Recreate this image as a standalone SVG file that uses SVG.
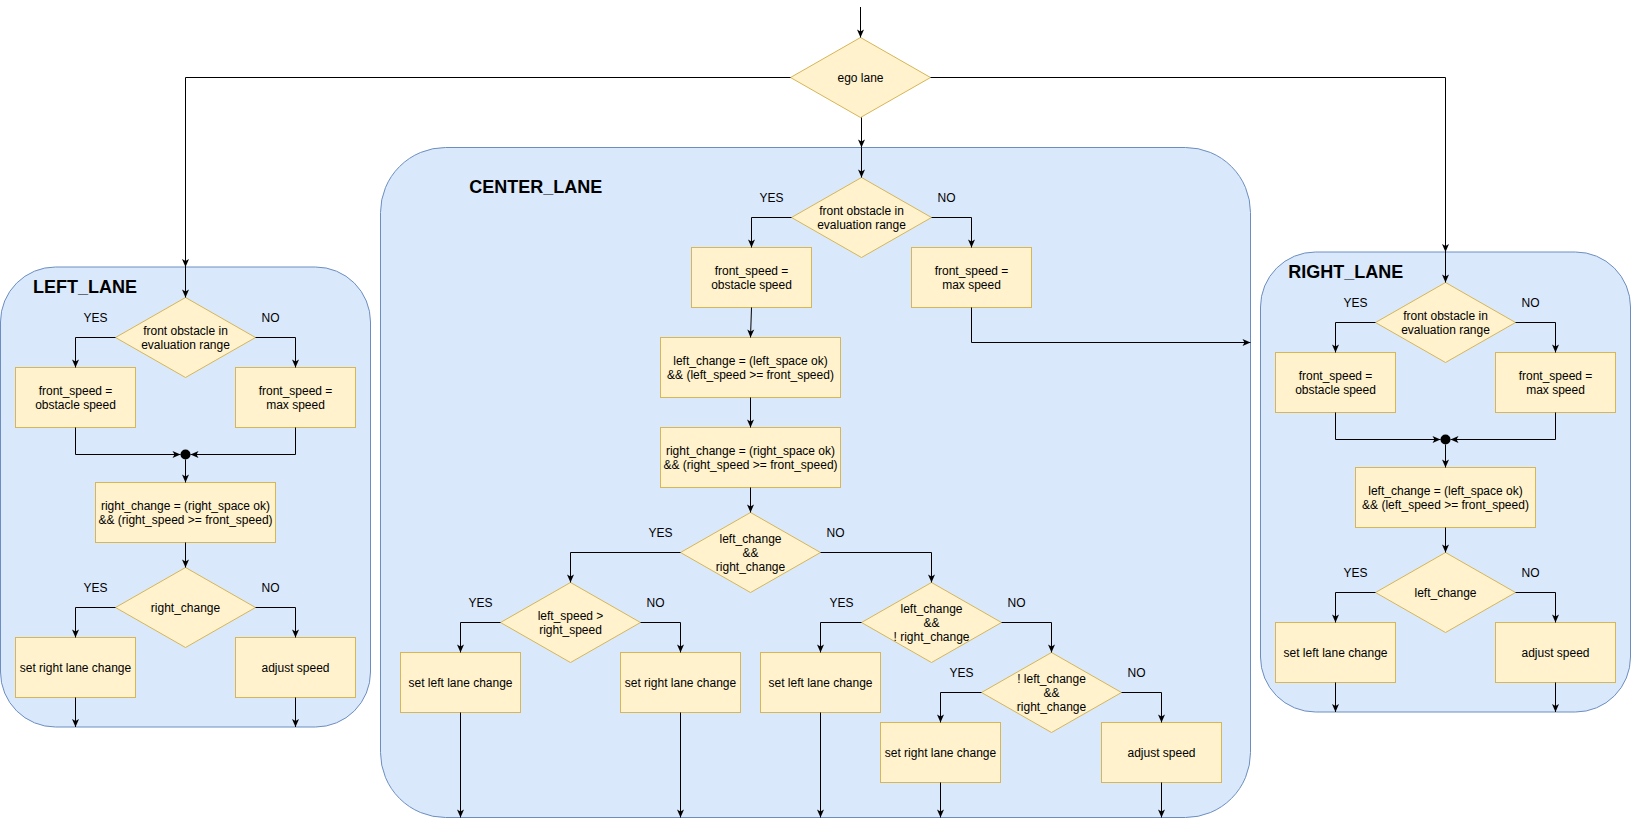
<svg xmlns="http://www.w3.org/2000/svg" width="1631" height="829" viewBox="0 0 1631 829">
<style>
.lane{fill:#dae8fc;stroke:#6c8ebf;stroke-width:1}
.node{fill:#fff2cc;stroke:#d6b656;stroke-width:1}
.e{fill:none;stroke:#000;stroke-width:1;marker-end:url(#arr)}
.t{font-family:"Liberation Sans",Arial,Helvetica,sans-serif;font-size:12px;fill:#000;text-anchor:middle}
.ttl{font-family:"Liberation Sans",Arial,Helvetica,sans-serif;font-size:18px;font-weight:bold;fill:#000}
</style>
<defs>
<marker id="arr" viewBox="0 0 10 8" refX="9" refY="4" markerWidth="10" markerHeight="8" orient="auto" markerUnits="userSpaceOnUse">
<path d="M1,0.5 L9,4 L1,7.5 L3,4 Z" fill="#000"/>
</marker>
</defs>
<rect width="1631" height="829" fill="#fff"/>

<!-- lanes -->
<g id="left_lane">
<rect class="lane" x="0.5" y="267" width="370" height="460" rx="55" ry="55"/>
<text class="ttl" x="33" y="293.3">LEFT_LANE</text>
</g>
<g id="center_lane">
<rect class="lane" x="380.5" y="147.5" width="870" height="670" rx="65" ry="65"/>
<text class="ttl" x="469.3" y="193.3">CENTER_LANE</text>
</g>
<g id="right_lane">
<rect class="lane" x="1260.5" y="252" width="370" height="460" rx="55" ry="55"/>
<text class="ttl" x="1288.3" y="278.3">RIGHT_LANE</text>
</g>

<!-- ego -->
<g id="ego_lane">
<polygon class="node" points="860.5,37.5 930.5,77.5 860.5,117.5 790.5,77.5"/>
<text class="t" x="860.5" y="82">ego lane</text>
</g>

<!-- LEFT lane nodes -->
<g id="l_front_obstacle">
<polygon class="node" points="185.5,297.5 255.5,337.5 185.5,377.5 115.5,337.5"/>
<text class="t" x="185.5" y="335">front obstacle in</text>
<text class="t" x="185.5" y="349">evaluation range</text>
</g>
<g id="l_obstacle_speed">
<rect class="node" x="15.5" y="367.5" width="120" height="60"/>
<text class="t" x="75.5" y="395">front_speed =</text>
<text class="t" x="75.5" y="409">obstacle speed</text>
</g>
<g id="l_max_speed">
<rect class="node" x="235.5" y="367.5" width="120" height="60"/>
<text class="t" x="295.5" y="395">front_speed =</text>
<text class="t" x="295.5" y="409">max speed</text>
</g>
<g id="l_join"><circle cx="185.5" cy="454.5" r="5" fill="#000"/></g>
<g id="l_right_change_calc">
<rect class="node" x="95.5" y="482.5" width="180" height="60"/>
<text class="t" x="185.5" y="510">right_change = (right_space ok)</text>
<text class="t" x="185.5" y="524">&amp;&amp; (right_speed &gt;= front_speed)</text>
</g>
<g id="l_right_change">
<polygon class="node" points="185.5,567.5 255.5,607.5 185.5,647.5 115.5,607.5"/>
<text class="t" x="185.5" y="612">right_change</text>
</g>
<g id="l_set_right">
<rect class="node" x="15.5" y="637.5" width="120" height="60"/>
<text class="t" x="75.5" y="672">set right lane change</text>
</g>
<g id="l_adjust">
<rect class="node" x="235.5" y="637.5" width="120" height="60"/>
<text class="t" x="295.5" y="672">adjust speed</text>
</g>

<!-- CENTER lane nodes -->
<g id="c_front_obstacle">
<polygon class="node" points="861.5,177.5 931.5,217.5 861.5,257.5 791.5,217.5"/>
<text class="t" x="861.5" y="215">front obstacle in</text>
<text class="t" x="861.5" y="229">evaluation range</text>
</g>
<g id="c_obstacle_speed">
<rect class="node" x="691.5" y="247.5" width="120" height="60"/>
<text class="t" x="751.5" y="275">front_speed =</text>
<text class="t" x="751.5" y="289">obstacle speed</text>
</g>
<g id="c_max_speed">
<rect class="node" x="911.5" y="247.5" width="120" height="60"/>
<text class="t" x="971.5" y="275">front_speed =</text>
<text class="t" x="971.5" y="289">max speed</text>
</g>
<g id="c_left_change_calc">
<rect class="node" x="660.5" y="337.5" width="180" height="60"/>
<text class="t" x="750.5" y="365">left_change = (left_space ok)</text>
<text class="t" x="750.5" y="379">&amp;&amp; (left_speed &gt;= front_speed)</text>
</g>
<g id="c_right_change_calc">
<rect class="node" x="660.5" y="427.5" width="180" height="60"/>
<text class="t" x="750.5" y="455">right_change = (right_space ok)</text>
<text class="t" x="750.5" y="469">&amp;&amp; (right_speed &gt;= front_speed)</text>
</g>
<g id="c_both">
<polygon class="node" points="750.5,512.5 820.5,552.5 750.5,592.5 680.5,552.5"/>
<text class="t" x="750.5" y="543">left_change</text>
<text class="t" x="750.5" y="557">&amp;&amp;</text>
<text class="t" x="750.5" y="571">right_change</text>
</g>
<g id="c_speed_cmp">
<polygon class="node" points="570.5,582.5 640.5,622.5 570.5,662.5 500.5,622.5"/>
<text class="t" x="570.5" y="620">left_speed &gt;</text>
<text class="t" x="570.5" y="634">right_speed</text>
</g>
<g id="c_left_only">
<polygon class="node" points="931.5,582.5 1001.5,622.5 931.5,662.5 861.5,622.5"/>
<text class="t" x="931.5" y="613">left_change</text>
<text class="t" x="931.5" y="627">&amp;&amp;</text>
<text class="t" x="931.5" y="641">! right_change</text>
</g>
<g id="c_right_only">
<polygon class="node" points="1051.5,652.5 1121.5,692.5 1051.5,732.5 981.5,692.5"/>
<text class="t" x="1051.5" y="683">! left_change</text>
<text class="t" x="1051.5" y="697">&amp;&amp;</text>
<text class="t" x="1051.5" y="711">right_change</text>
</g>
<g id="c_set_left_1">
<rect class="node" x="400.5" y="652.5" width="120" height="60"/>
<text class="t" x="460.5" y="687">set left lane change</text>
</g>
<g id="c_set_right_1">
<rect class="node" x="620.5" y="652.5" width="120" height="60"/>
<text class="t" x="680.5" y="687">set right lane change</text>
</g>
<g id="c_set_left_2">
<rect class="node" x="760.5" y="652.5" width="120" height="60"/>
<text class="t" x="820.5" y="687">set left lane change</text>
</g>
<g id="c_set_right_2">
<rect class="node" x="880.5" y="722.5" width="120" height="60"/>
<text class="t" x="940.5" y="757">set right lane change</text>
</g>
<g id="c_adjust">
<rect class="node" x="1101.5" y="722.5" width="120" height="60"/>
<text class="t" x="1161.5" y="757">adjust speed</text>
</g>

<!-- RIGHT lane nodes -->
<g id="r_front_obstacle">
<polygon class="node" points="1445.5,282.5 1515.5,322.5 1445.5,362.5 1375.5,322.5"/>
<text class="t" x="1445.5" y="320">front obstacle in</text>
<text class="t" x="1445.5" y="334">evaluation range</text>
</g>
<g id="r_obstacle_speed">
<rect class="node" x="1275.5" y="352.5" width="120" height="60"/>
<text class="t" x="1335.5" y="380">front_speed =</text>
<text class="t" x="1335.5" y="394">obstacle speed</text>
</g>
<g id="r_max_speed">
<rect class="node" x="1495.5" y="352.5" width="120" height="60"/>
<text class="t" x="1555.5" y="380">front_speed =</text>
<text class="t" x="1555.5" y="394">max speed</text>
</g>
<g id="r_join"><circle cx="1445.5" cy="439.5" r="5" fill="#000"/></g>
<g id="r_left_change_calc">
<rect class="node" x="1355.5" y="467.5" width="180" height="60"/>
<text class="t" x="1445.5" y="495">left_change = (left_space ok)</text>
<text class="t" x="1445.5" y="509">&amp;&amp; (left_speed &gt;= front_speed)</text>
</g>
<g id="r_left_change">
<polygon class="node" points="1445.5,552.5 1515.5,592.5 1445.5,632.5 1375.5,592.5"/>
<text class="t" x="1445.5" y="597">left_change</text>
</g>
<g id="r_set_left">
<rect class="node" x="1275.5" y="622.5" width="120" height="60"/>
<text class="t" x="1335.5" y="657">set left lane change</text>
</g>
<g id="r_adjust">
<rect class="node" x="1495.5" y="622.5" width="120" height="60"/>
<text class="t" x="1555.5" y="657">adjust speed</text>
</g>

<!-- labels -->
<g id="labels" class="t">
<text class="t" x="95.5" y="322">YES</text><text class="t" x="270.5" y="322">NO</text>
<text class="t" x="95.5" y="592">YES</text><text class="t" x="270.5" y="592">NO</text>
<text class="t" x="771.5" y="202">YES</text><text class="t" x="946.5" y="202">NO</text>
<text class="t" x="660.5" y="537">YES</text><text class="t" x="835.5" y="537">NO</text>
<text class="t" x="480.5" y="607">YES</text><text class="t" x="655.5" y="607">NO</text>
<text class="t" x="841.5" y="607">YES</text><text class="t" x="1016.5" y="607">NO</text>
<text class="t" x="961.5" y="677">YES</text><text class="t" x="1136.5" y="677">NO</text>
<text class="t" x="1355.5" y="307">YES</text><text class="t" x="1530.5" y="307">NO</text>
<text class="t" x="1355.5" y="577">YES</text><text class="t" x="1530.5" y="577">NO</text>
</g>

<!-- connectors -->
<g id="connectors">
<path class="e" d="M860.5,7 L860.5,37.5"/>
<path class="e" d="M790.5,77.5 L185.5,77.5 L185.5,267"/>
<path class="e" d="M185.5,267 L185.5,297.5"/>
<path class="e" d="M930.5,77.5 L1445.5,77.5 L1445.5,252"/>
<path class="e" d="M1445.5,252 L1445.5,282.5"/>
<path class="e" d="M861.5,117.5 L861.5,147.5"/>
<path class="e" d="M861.5,147.5 L861.5,177.5"/>

<!-- left lane -->
<path class="e" d="M115.5,337.5 L75.5,337.5 L75.5,367.5"/>
<path class="e" d="M255.5,337.5 L295.5,337.5 L295.5,367.5"/>
<path class="e" d="M75.5,427.5 L75.5,454.5 L180.5,454.5"/>
<path class="e" d="M295.5,427.5 L295.5,454.5 L190.5,454.5"/>
<path class="e" d="M185.5,459.5 L185.5,482.5"/>
<path class="e" d="M185.5,542.5 L185.5,567.5"/>
<path class="e" d="M115.5,607.5 L75.5,607.5 L75.5,637.5"/>
<path class="e" d="M255.5,607.5 L295.5,607.5 L295.5,637.5"/>
<path class="e" d="M75.5,697.5 L75.5,727"/>
<path class="e" d="M295.5,697.5 L295.5,727"/>

<!-- center lane -->
<path class="e" d="M791.5,217.5 L751.5,217.5 L751.5,247.5"/>
<path class="e" d="M931.5,217.5 L971.5,217.5 L971.5,247.5"/>
<path class="e" d="M971.5,307.5 L971.5,342.5 L1250.5,342.5"/>
<path class="e" d="M751.5,307.5 L750.5,337.5"/>
<path class="e" d="M750.5,397.5 L750.5,427.5"/>
<path class="e" d="M750.5,487.5 L750.5,512.5"/>
<path class="e" d="M680.5,552.5 L570.5,552.5 L570.5,582.5"/>
<path class="e" d="M820.5,552.5 L931.5,552.5 L931.5,582.5"/>
<path class="e" d="M500.5,622.5 L460.5,622.5 L460.5,652.5"/>
<path class="e" d="M640.5,622.5 L680.5,622.5 L680.5,652.5"/>
<path class="e" d="M861.5,622.5 L820.5,622.5 L820.5,652.5"/>
<path class="e" d="M1001.5,622.5 L1051.5,622.5 L1051.5,652.5"/>
<path class="e" d="M981.5,692.5 L940.5,692.5 L940.5,722.5"/>
<path class="e" d="M1121.5,692.5 L1161.5,692.5 L1161.5,722.5"/>
<path class="e" d="M460.5,712.5 L460.5,817.5"/>
<path class="e" d="M680.5,712.5 L680.5,817.5"/>
<path class="e" d="M820.5,712.5 L820.5,817.5"/>
<path class="e" d="M940.5,782.5 L940.5,817.5"/>
<path class="e" d="M1161.5,782.5 L1161.5,817.5"/>

<!-- right lane -->
<path class="e" d="M1375.5,322.5 L1335.5,322.5 L1335.5,352.5"/>
<path class="e" d="M1515.5,322.5 L1555.5,322.5 L1555.5,352.5"/>
<path class="e" d="M1335.5,412.5 L1335.5,439.5 L1440.5,439.5"/>
<path class="e" d="M1555.5,412.5 L1555.5,439.5 L1450.5,439.5"/>
<path class="e" d="M1445.5,444.5 L1445.5,467.5"/>
<path class="e" d="M1445.5,527.5 L1445.5,552.5"/>
<path class="e" d="M1375.5,592.5 L1335.5,592.5 L1335.5,622.5"/>
<path class="e" d="M1515.5,592.5 L1555.5,592.5 L1555.5,622.5"/>
<path class="e" d="M1335.5,682.5 L1335.5,712"/>
<path class="e" d="M1555.5,682.5 L1555.5,712"/>
</g>
</svg>
